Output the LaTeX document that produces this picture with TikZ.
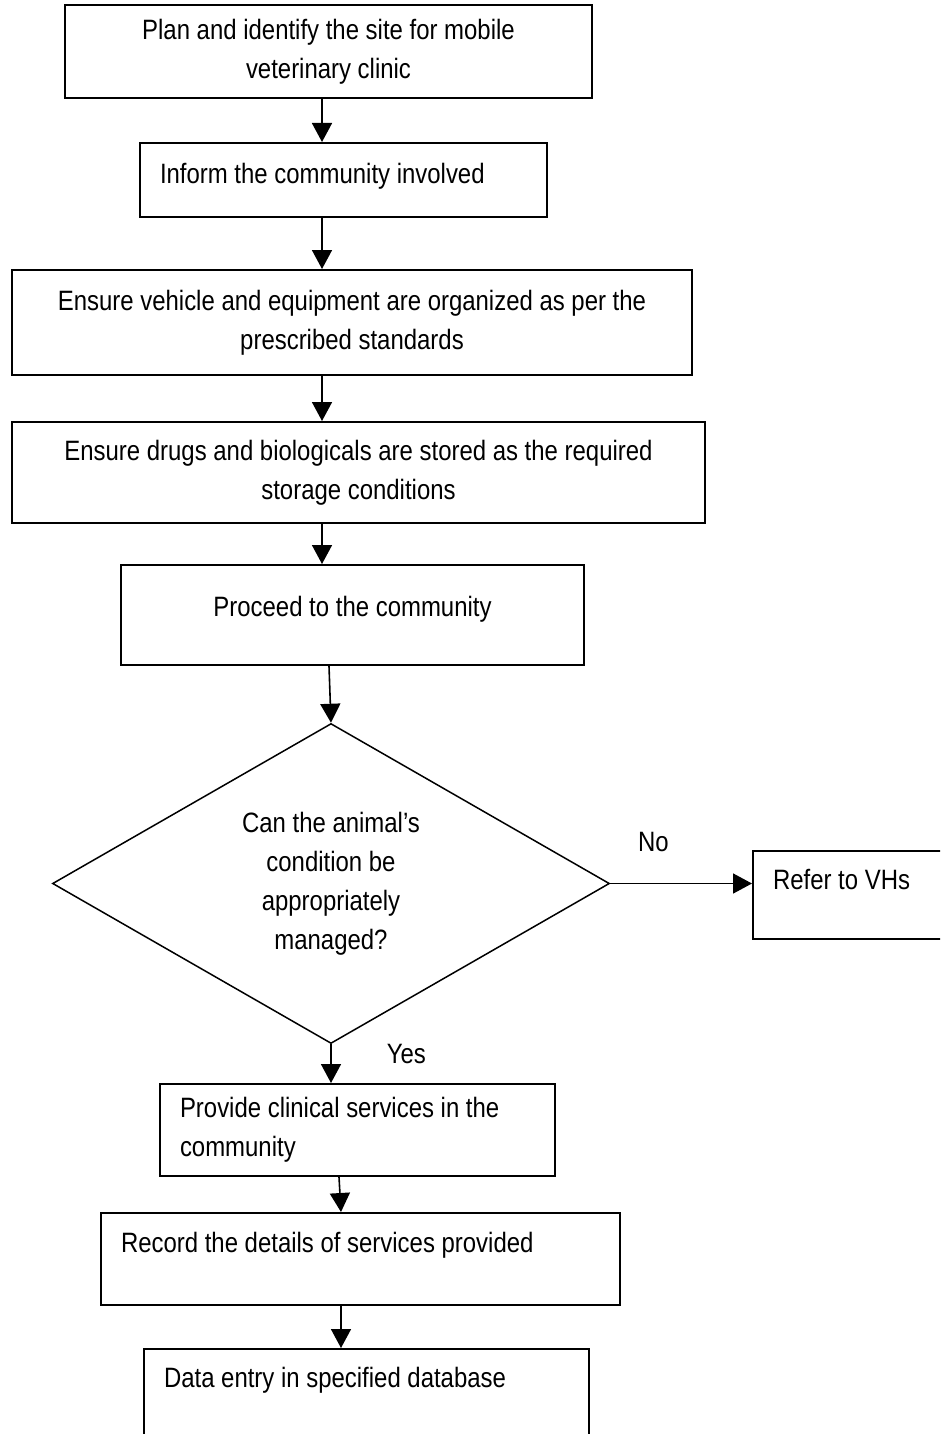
\documentclass[tikz,border=0pt]{standalone}
\usepackage{fontspec}
\setmainfont{Liberation Sans}[FakeStretch=0.855]
\usetikzlibrary{arrows.meta,shapes.geometric,positioning}

\begin{document}
\begin{tikzpicture}[x=1pt,y=-1pt,
      stepbox/.style={draw,rectangle,line width=2pt,inner xsep=20pt,inner ysep=0pt,
        font=\fontsize{28}{39}\selectfont},
      decision/.style={draw,diamond,aspect=1.74,line width=1.5pt,inner sep=0pt,
        align=center,font=\fontsize{28}{39}\selectfont},
      flow/.style={-{Triangle[length=19pt,width=20pt]},line width=1.6pt},
      lbl/.style={inner sep=0pt,font=\fontsize{28}{39}\selectfont}
      ]

	\useasboundingbox (0,0) rectangle (940,1434);
	\clip (0,0) rectangle (940,1434);

	% boxes
	\node[stepbox,minimum width=527pt,minimum height=93pt,text width=487pt,align=flush center] (plan) at (328.5,51.5)
	     {Plan and identify the site for mobile\\veterinary clinic};
	\node[stepbox,minimum width=407pt,text width=367pt,align=flush left,text height=40pt,text depth=34pt] (inform) at (343.5,180)
	     {Inform the community involved};
	\node[stepbox,minimum width=680pt,minimum height=105pt,text width=640pt,align=flush center] (vehicle) at (352,322.5)
	     {Ensure vehicle and equipment are organized as per the\\prescribed standards};
	\node[stepbox,minimum width=693pt,minimum height=101pt,text width=653pt,align=flush center] (drugs) at (358.5,472.5)
	     {Ensure drugs and biologicals are stored as the required\\storage conditions};
	\node[stepbox,minimum width=463pt,text width=423pt,align=flush center,text height=51pt,text depth=49pt] (proceed) at (352.5,615)
	     {Proceed to the community};

	\node[decision,minimum width=557pt,minimum height=320pt] (dia) at (331,883.5)
	     {Can the animal’s\\condition be\\appropriately\\managed?};

	\node[stepbox,minimum width=230pt,text width=190pt,align=flush left,text height=38pt,text depth=50pt] (refer) at (868,895)
	     {Refer to VHs};

	\node[stepbox,minimum width=395pt,minimum height=92pt,text width=355pt,align=flush left] (clinic) at (357.5,1130)
	     {Provide clinical services in the\\community};
	\node[stepbox,minimum width=519pt,text width=479pt,align=flush left,text height=39pt,text depth=53pt] (record) at (360.5,1259)
	     {Record the details of services provided};
	\node[stepbox,minimum width=445pt,text width=405pt,align=flush left,text height=38pt,text depth=53pt] (entry) at (366.5,1394.5)
	     {Data entry in specified database};

	% connectors
	\coordinate (ax) at (322,0);
	\draw[flow] (plan.south -| ax) -- (inform.north -| ax);
	\draw[flow] (inform.south -| ax) -- (vehicle.north -| ax);
	\draw[flow] (vehicle.south -| ax) -- (drugs.north -| ax);
	\draw[flow] (drugs.south -| ax) -- (proceed.north -| ax);
	\draw[flow] ([xshift=-23.5pt]proceed.south) -- (dia.north);
	\draw[flow] (dia.east) -- node[lbl,pos=0.305,anchor=base,yshift=32pt] (no) {No} (dia.east -| refer.west);
	\draw[flow] (dia.south) -- node[lbl,pos=0.5,anchor=base west,xshift=55pt] (yes) {Yes} (dia.south |- clinic.north);
	\draw[flow] ([xshift=-18.5pt]clinic.south) -- ([xshift=-19.5pt]record.north);
	\draw[flow] ([xshift=-19.5pt]record.south) -- ([xshift=-19.5pt]record.south |- entry.north);

\end{tikzpicture}
\end{document}
